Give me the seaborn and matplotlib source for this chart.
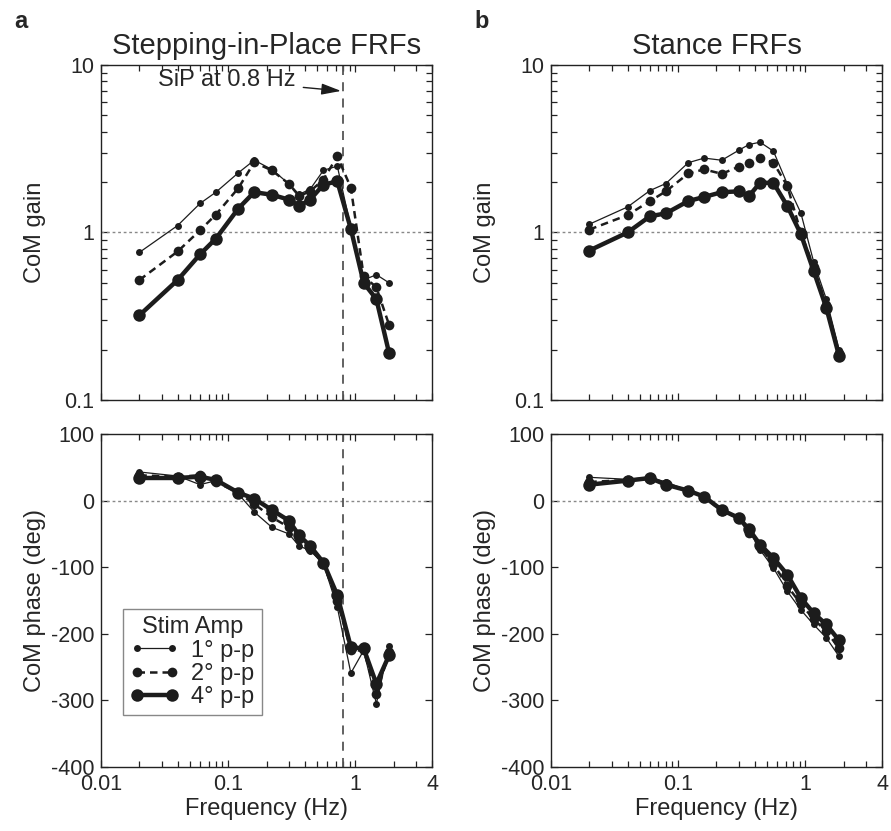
import numpy as np
import matplotlib
matplotlib.use("Agg")
from matplotlib import pyplot as plt
from matplotlib.ticker import LogLocator, NullFormatter
import seaborn as sns

# stimulus frequencies (Hz)
freq = [0.02, 0.04, 0.06, 0.08, 0.12, 0.16, 0.22, 0.30, 0.36, 0.44, 0.56, 0.72, 0.92, 1.16, 1.46, 1.84]
amp_labels = ["1° p-p", "2° p-p", "4° p-p"]

# stepping-in-place
sip_gain_1 = [0.76, 1.10, 1.49, 1.74, 2.27, 2.70, 2.38, 1.95, 1.69, 1.81, 2.35, 2.49, 1.07, 0.52, 0.56, 0.50]
sip_gain_2 = [0.52, 0.77, 1.03, 1.28, 1.84, 2.62, 2.35, 1.95, 1.65, 1.76, 2.07, 2.85, 1.85, 0.55, 0.47, 0.28]
sip_gain_4 = [0.32, 0.52, 0.74, 0.92, 1.39, 1.74, 1.68, 1.57, 1.44, 1.57, 1.93, 2.02, 1.05, 0.50, 0.40, 0.19]
sip_phase_1 = [43, 37, 24, 30, 10, -17, -40, -50, -68, -75, -95, -160, -259, -225, -305, -218]
sip_phase_2 = [38, 36, 38, 28, 12, -5, -25, -40, -58, -72, -95, -150, -225, -225, -290, -228]
sip_phase_4 = [34, 34, 36, 31, 12, 3, -14, -30, -52, -68, -93, -142, -220, -222, -275, -232]

# stance
st_gain_1 = [1.12, 1.42, 1.78, 1.96, 2.61, 2.78, 2.70, 3.10, 3.35, 3.46, 3.06, 1.95, 1.31, 0.67, 0.40, 0.20]
st_gain_2 = [1.04, 1.27, 1.54, 1.76, 2.25, 2.38, 2.24, 2.47, 2.61, 2.79, 2.61, 1.90, 1.00, 0.62, 0.37, 0.19]
st_gain_4 = [0.78, 1.00, 1.25, 1.30, 1.54, 1.63, 1.74, 1.76, 1.65, 1.98, 1.98, 1.44, 0.98, 0.59, 0.355, 0.183]
st_phase_1 = [35, 32, 35, 28, 15, 6, -15, -27, -45, -74, -101, -136, -164, -186, -206, -234]
st_phase_2 = [28, 31, 33, 25, 15, 6, -16, -26, -48, -70, -95, -128, -155, -178, -196, -222]
st_phase_4 = [24, 30, 34, 24, 15, 6, -14, -26, -43, -66, -86, -111, -146, -169, -186, -210]

sip_freq = 0.8

sns.set_style("ticks")
plt.rcParams["font.family"] = ["Liberation Sans", "DejaVu Sans"]
plt.rcParams["axes.edgecolor"] = "#222222"
plt.rcParams["axes.linewidth"] = 1.0
plt.rcParams["axes.unicode_minus"] = False

ink = "#1c1c1c"
FS_TICK = 15.5
FS = 17

fig = plt.figure(figsize=(8.91, 8.31), dpi=100)
ax_sg = fig.add_axes([0.1134, 0.5187, 0.3715, 0.4031])
ax_sp = fig.add_axes([0.1134, 0.0770, 0.3715, 0.4007])
ax_tg = fig.add_axes([0.6184, 0.5187, 0.3715, 0.4031])
ax_tp = fig.add_axes([0.6184, 0.0770, 0.3715, 0.4007])


def style_axes(ax, gain, bottom):
    ax.set_xscale("log")
    ax.set_xlim(0.01, 4)
    ax.set_xticks([0.01, 0.1, 1, 4], ["0.01", "0.1", "1", "4"] if bottom else [])
    ax.xaxis.set_minor_locator(LogLocator(base=10, subs=np.arange(2, 10)))
    ax.xaxis.set_minor_formatter(NullFormatter())
    if gain:
        ax.set_yscale("log")
        ax.set_ylim(0.1, 10)
        ax.set_yticks([0.1, 1, 10], ["0.1", "1", "10"])
        ax.yaxis.set_minor_locator(LogLocator(base=10, subs=np.arange(2, 10)))
        ax.yaxis.set_minor_formatter(NullFormatter())
        ax.axhline(1, color="#888888", lw=1.0, ls=(0, (2, 2)), zorder=1)
        ax.set_ylabel("CoM gain", fontsize=FS)
    else:
        ax.set_ylim(-400, 100)
        ax.set_yticks([-400, -300, -200, -100, 0, 100])
        ax.axhline(0, color="#888888", lw=1.0, ls=(0, (2, 2)), zorder=1)
        ax.set_ylabel("CoM phase (deg)", fontsize=FS)
        ax.set_xlabel("Frequency (Hz)", fontsize=FS, labelpad=2)
    ax.yaxis.set_label_coords(-0.165, 0.5)
    ax.tick_params(which="both", direction="in", top=True, right=True,
                   labelsize=FS_TICK, color="#222222", pad=5)
    ax.tick_params(which="major", length=5, width=0.9)
    ax.tick_params(which="minor", length=4, width=0.9)
    for s in ax.spines.values():
        s.set_visible(True)


def draw(ax, series):
    line_styles = ["-", (0, (3, 2)), "-"]
    widths = [0.9, 1.8, 3.2]
    sizes = [5, 7, 9]
    for vals, lab, ls, lw, ms in zip(series, amp_labels, line_styles, widths, sizes):
        sns.lineplot(x=freq, y=vals, ax=ax, color=ink, linestyle=ls, linewidth=lw,
                     marker="o", markersize=ms, markeredgecolor=ink,
                     markeredgewidth=0, label=lab, legend=False, zorder=3)


for ax, gain, bottom in [(ax_sg, True, False), (ax_sp, False, True),
                         (ax_tg, True, False), (ax_tp, False, True)]:
    style_axes(ax, gain, bottom)

draw(ax_sg, [sip_gain_1, sip_gain_2, sip_gain_4])
draw(ax_sp, [sip_phase_1, sip_phase_2, sip_phase_4])
draw(ax_tg, [st_gain_1, st_gain_2, st_gain_4])
draw(ax_tp, [st_phase_1, st_phase_2, st_phase_4])

for ax in (ax_sg, ax_sp):
    ax.axvline(sip_freq, color="#555555", lw=1.3, ls=(0, (5, 4)), zorder=2)

ax_sg.annotate("SiP at 0.8 Hz", xy=(0.77, 7.0), xytext=(0.34, 8.1),
               fontsize=FS, ha="right", va="center",
               arrowprops=dict(arrowstyle="-|>,head_length=0.7,head_width=0.2",
                               color=ink, lw=1.0, shrinkA=3, shrinkB=0))

ax_sg.set_title("Stepping-in-Place FRFs", fontsize=21, pad=8)
ax_tg.set_title("Stance FRFs", fontsize=21, pad=8)
fig.text(0.016, 0.988, "a", fontsize=17, fontweight="bold", va="top")
fig.text(0.532, 0.988, "b", fontsize=17, fontweight="bold", va="top")

handles, labels = ax_sp.get_legend_handles_labels()
leg = ax_sp.legend(handles, labels, title="Stim Amp", loc="lower left",
                   bbox_to_anchor=(0.066, 0.156), borderaxespad=0, numpoints=2,
                   fancybox=False, edgecolor="#888888", framealpha=1,
                   fontsize=FS, title_fontsize=FS, handlelength=2.1,
                   labelspacing=0.05, borderpad=0.3, handletextpad=0.5)
leg.get_frame().set_linewidth(1.0)

fig.savefig("out.png", dpi=100)
